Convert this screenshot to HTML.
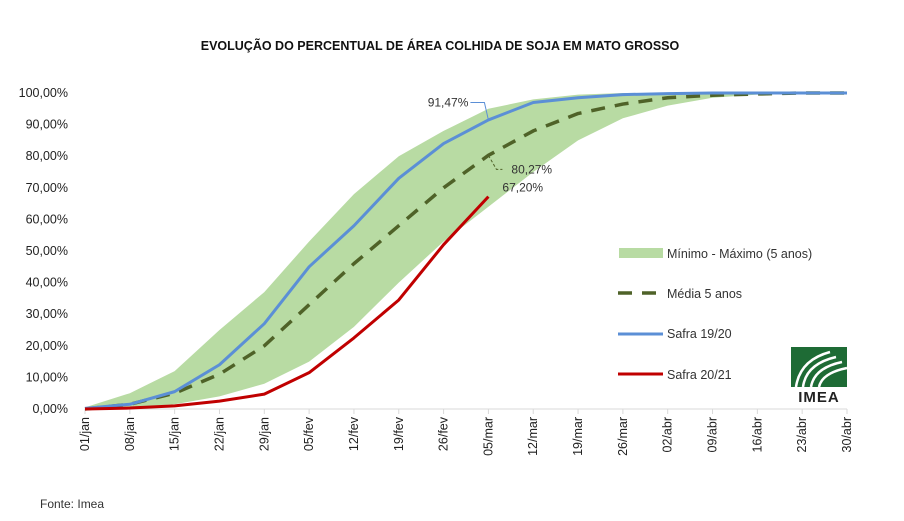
<!DOCTYPE html>
<html><head><meta charset="utf-8"><style>
body{margin:0;background:#fff;width:904px;height:516px;overflow:hidden;font-family:"Liberation Sans",sans-serif}
svg text{font-family:"Liberation Sans",sans-serif}
</style></head><body>
<svg id="c" width="904" height="516" xmlns="http://www.w3.org/2000/svg">
<text x="440" y="50" text-anchor="middle" font-size="12.5" font-weight="bold" fill="#111">EVOLUÇÃO DO PERCENTUAL DE ÁREA COLHIDA DE SOJA EM MATO GROSSO</text>
<text x="40" y="508" font-size="12" fill="#333">Fonte: Imea</text>
<g id="plot"></g>
<g>
<rect x="619" y="248" width="44" height="10" fill="#b8dba3"/>
<text x="667" y="258" font-size="12.5" fill="#333">Mínimo - Máximo (5 anos)</text>
<line x1="618" y1="293" x2="663" y2="293" stroke="#4f6228" stroke-width="3.5" stroke-dasharray="14,10"/>
<text x="667" y="298" font-size="12.5" fill="#333">Média 5 anos</text>
<line x1="618" y1="334" x2="663" y2="334" stroke="#5b8fd6" stroke-width="3"/>
<text x="667" y="338" font-size="12.5" fill="#333">Safra 19/20</text>
<line x1="618" y1="374" x2="663" y2="374" stroke="#c00000" stroke-width="3"/>
<text x="667" y="379" font-size="12.5" fill="#333">Safra 20/21</text>
</g>
<g>
<rect x="791" y="347" width="56" height="40" fill="#1e6b35"/>
<path d="M796 387 Q800 360 830 352 M803 387 Q806 364 836 357 M811 387 Q814 368 842 362 M819 387 Q822 373 847 368" stroke="#fff" stroke-width="2.5" fill="none"/>
<text x="819" y="402" text-anchor="middle" font-size="15" font-weight="bold" fill="#222" letter-spacing="1">IMEA</text>
</g>
</svg>
<script>
const categories=["01/jan","08/jan","15/jan","22/jan","29/jan","05/fev","12/fev","19/fev","26/fev","05/mar","12/mar","19/mar","26/mar","02/abr","09/abr","16/abr","23/abr","30/abr"];
const maxVals=[0.5,5,12,25,37,53,68,80,88,95,98,99.5,100,100,100,100,100,100];
const minVals=[0,0.3,1.5,4,8,15,26,40,53,64,75,85,92,96,98.5,99.5,100,100];
const avgVals=[0,1.5,5,11,20,33,46,58,70,80.27,88,93.5,96.5,98.5,99.3,99.7,100,100];
const s1920=[0.2,1.5,5.5,14,27,45,58,73,84,91.47,97,98.5,99.5,99.8,100,100,100,100];
const s2021=[0,0.3,1,2.5,4.7,11.5,22.5,34.5,52,67.2];
const yTicks=[0,10,20,30,40,50,60,70,80,90,100];
const NS="http://www.w3.org/2000/svg";
const g=document.getElementById('plot');
const x0=85,x1=847,y0=409,y1=93;
const xs=i=>x0+i*(x1-x0)/(categories.length-1);
const ys=v=>y0-(v/100)*(y0-y1);
function el(t,a){const e=document.createElementNS(NS,t);for(const k in a)e.setAttribute(k,a[k]);g.appendChild(e);return e;}
const fmt=v=>v.toFixed(2).replace('.',',')+'%';
yTicks.forEach(v=>{
 const t=el('text',{x:68,y:ys(v)+4,'text-anchor':'end','font-size':'12.5',fill:'#222'});
 t.textContent=fmt(v);
 
 
});
let pts=maxVals.map((v,i)=>xs(i)+','+ys(v));
for(let i=minVals.length-1;i>=0;i--)pts.push(xs(i)+','+ys(minVals[i]));
const band=el('polygon',{points:pts.join(' '),fill:'#b8dba3'});


const ax=el('line',{x1:x0,y1:y0,x2:x1,y2:y0,stroke:'#d9d9d9','stroke-width':1});


categories.forEach((c,i)=>{
 const tk=el('line',{x1:xs(i),y1:y0,x2:xs(i),y2:y0+5,stroke:'#d9d9d9'});
 
 
 const t=el('text',{x:0,y:0,'text-anchor':'end','font-size':'12.5',fill:'#222',transform:`translate(${xs(i)+4},${y0+8}) rotate(-90)`});
 t.textContent=c;
 
 
});
function line(vals,st,name){
 const p=el('polyline',Object.assign({points:vals.map((v,i)=>xs(i)+','+ys(v)).join(' '),fill:'none','stroke-linejoin':'round'},st));
 
 
}
line(avgVals,{stroke:'#4f6228','stroke-width':3.5,'stroke-dasharray':'14,10'},'average-line');
line(s1920,{stroke:'#5b8fd6','stroke-width':3},'safra-1920-line');
line(s2021,{stroke:'#c00000','stroke-width':3},'safra-2021-line');
const i9=9;
const l1=el('polyline',{points:`${xs(i9)},${ys(s1920[i9])} ${xs(i9)-4},${ys(97)} ${xs(i9)-18},${ys(97)}`,fill:'none',stroke:'#5b8fd6','stroke-width':1});


const a=el('text',{x:xs(i9)-20,y:ys(97)+4,'text-anchor':'end','font-size':'12',fill:'#333'});
a.textContent=fmt(s1920[i9]);


const l2=el('polyline',{points:`${xs(i9)},${ys(avgVals[i9])} ${xs(i9)+8},${ys(avgVals[i9])+14} ${xs(i9)+14},${ys(avgVals[i9])+14}`,fill:'none',stroke:'#4f6228','stroke-width':1,'stroke-dasharray':'3,2'});


const b=el('text',{x:xs(i9)+23,y:ys(avgVals[i9])+18,'font-size':'12',fill:'#333'});
b.textContent=fmt(avgVals[i9]);


const k=s2021.length-1;
const c=el('text',{x:xs(k)+14,y:ys(s2021[k])-5,'font-size':'12',fill:'#333'});
c.textContent=fmt(s2021[k]);


</script>
</body></html>
